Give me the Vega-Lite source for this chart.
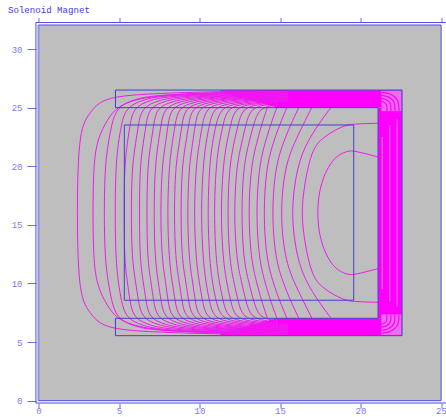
{"$schema":"https://vega.github.io/schema/vega-lite/v6.json","autosize":"none","width":402.5,"height":375.7,"padding":{"left":38.5,"top":25,"right":5,"bottom":16.3},"background":"white","view":{"fill":"#bebebe","stroke":null},
"title":{"text":"Solenoid Magnet","anchor":"start","frame":"group","dx":-30.5,"offset":2,"font":"Liberation Mono","fontSize":9.1,"fontWeight":"normal","color":"#3c3ce0"},
"datasets":{"lines":[
{"c":1,"i":-9,"x":15.5,"y":5.59},{"c":1,"i":-8,"x":11.3,"y":5.68},{"c":1,"i":-7,"x":6.9,"y":5.86},{"c":1,"i":-6,"x":4.63,"y":6.12},{"c":1,"i":-5,"x":3.7,"y":6.66},{"c":1,"i":-4,"x":3.2,"y":7.5},{"c":1,"i":-3,"x":2.78,"y":8.36},{"c":1,"i":-2,"x":2.53,"y":10.06},{"c":1,"i":-1,"x":2.43,"y":13.06},{"c":1,"i":0,"x":2.41,"y":16.03},{"c":1,"i":1,"x":2.43,"y":19},{"c":1,"i":2,"x":2.53,"y":22},{"c":1,"i":3,"x":2.78,"y":23.7},{"c":1,"i":4,"x":3.2,"y":24.56},{"c":1,"i":5,"x":3.7,"y":25.4},{"c":1,"i":6,"x":4.63,"y":25.94},{"c":1,"i":7,"x":6.9,"y":26.2},{"c":1,"i":8,"x":11.3,"y":26.38},{"c":1,"i":9,"x":15.5,"y":26.47},
{"c":2,"i":-8,"x":15.5,"y":5.64},{"c":2,"i":-7,"x":9.5,"y":5.81},{"c":2,"i":-6,"x":7,"y":6.11},{"c":2,"i":-5,"x":5.8,"y":6.46},{"c":2,"i":-4,"x":4.78,"y":7.06},{"c":2,"i":-3,"x":4.07,"y":8.54},{"c":2,"i":-2,"x":3.61,"y":10.06},{"c":2,"i":-1,"x":3.42,"y":12.06},{"c":2,"i":0,"x":3.37,"y":16.03},{"c":2,"i":1,"x":3.42,"y":20},{"c":2,"i":2,"x":3.61,"y":22},{"c":2,"i":3,"x":4.07,"y":23.52},{"c":2,"i":4,"x":4.78,"y":25},{"c":2,"i":5,"x":5.8,"y":25.6},{"c":2,"i":6,"x":7,"y":25.95},{"c":2,"i":7,"x":9.5,"y":26.25},{"c":2,"i":8,"x":15.5,"y":26.42},
{"c":3,"i":-7,"x":15.5,"y":5.69},{"c":3,"i":-6,"x":7.36,"y":5.9},{"c":3,"i":-5,"x":5.86,"y":6.37},{"c":3,"i":-4,"x":4.86,"y":7.06},{"c":3,"i":-3,"x":4.53,"y":8.54},{"c":3,"i":-2,"x":4.34,"y":10.06},{"c":3,"i":-1,"x":4.13,"y":12.06},{"c":3,"i":0,"x":4.07,"y":16.03},{"c":3,"i":1,"x":4.13,"y":20},{"c":3,"i":2,"x":4.34,"y":22},{"c":3,"i":3,"x":4.53,"y":23.52},{"c":3,"i":4,"x":4.86,"y":25},{"c":3,"i":5,"x":5.86,"y":25.69},{"c":3,"i":6,"x":7.36,"y":26.16},{"c":3,"i":7,"x":15.5,"y":26.37},
{"c":4,"i":-7,"x":15.5,"y":5.74},{"c":4,"i":-6,"x":7.92,"y":5.94},{"c":4,"i":-5,"x":6.42,"y":6.4},{"c":4,"i":-4,"x":5.42,"y":7.06},{"c":4,"i":-3,"x":5.14,"y":8.54},{"c":4,"i":-2,"x":4.96,"y":10.06},{"c":4,"i":-1,"x":4.8,"y":12.06},{"c":4,"i":0,"x":4.75,"y":16.03},{"c":4,"i":1,"x":4.8,"y":20},{"c":4,"i":2,"x":4.96,"y":22},{"c":4,"i":3,"x":5.14,"y":23.52},{"c":4,"i":4,"x":5.42,"y":25},{"c":4,"i":5,"x":6.42,"y":25.66},{"c":4,"i":6,"x":7.92,"y":26.12},{"c":4,"i":7,"x":15.5,"y":26.32},
{"c":5,"i":-7,"x":15.5,"y":5.79},{"c":5,"i":-6,"x":8.39,"y":5.98},{"c":5,"i":-5,"x":6.89,"y":6.42},{"c":5,"i":-4,"x":5.89,"y":7.06},{"c":5,"i":-3,"x":5.68,"y":8.54},{"c":5,"i":-2,"x":5.52,"y":10.06},{"c":5,"i":-1,"x":5.34,"y":12.06},{"c":5,"i":0,"x":5.31,"y":16.03},{"c":5,"i":1,"x":5.34,"y":20},{"c":5,"i":2,"x":5.52,"y":22},{"c":5,"i":3,"x":5.68,"y":23.52},{"c":5,"i":4,"x":5.89,"y":25},{"c":5,"i":5,"x":6.89,"y":25.64},{"c":5,"i":6,"x":8.39,"y":26.08},{"c":5,"i":7,"x":15.5,"y":26.27},
{"c":6,"i":-7,"x":15.5,"y":5.84},{"c":6,"i":-6,"x":8.91,"y":6.02},{"c":6,"i":-5,"x":7.41,"y":6.45},{"c":6,"i":-4,"x":6.41,"y":7.06},{"c":6,"i":-3,"x":6.2,"y":8.54},{"c":6,"i":-2,"x":6.04,"y":10.06},{"c":6,"i":-1,"x":5.81,"y":12.06},{"c":6,"i":0,"x":5.75,"y":16.03},{"c":6,"i":1,"x":5.81,"y":20},{"c":6,"i":2,"x":6.04,"y":22},{"c":6,"i":3,"x":6.2,"y":23.52},{"c":6,"i":4,"x":6.41,"y":25},{"c":6,"i":5,"x":7.41,"y":25.61},{"c":6,"i":6,"x":8.91,"y":26.04},{"c":6,"i":7,"x":15.5,"y":26.22},
{"c":7,"i":-7,"x":15.5,"y":5.89},{"c":7,"i":-6,"x":9.36,"y":6.07},{"c":7,"i":-5,"x":7.86,"y":6.47},{"c":7,"i":-4,"x":6.86,"y":7.06},{"c":7,"i":-3,"x":6.68,"y":8.54},{"c":7,"i":-2,"x":6.51,"y":10.06},{"c":7,"i":-1,"x":6.3,"y":12.06},{"c":7,"i":0,"x":6.26,"y":16.03},{"c":7,"i":1,"x":6.3,"y":20},{"c":7,"i":2,"x":6.51,"y":22},{"c":7,"i":3,"x":6.68,"y":23.52},{"c":7,"i":4,"x":6.86,"y":25},{"c":7,"i":5,"x":7.86,"y":25.59},{"c":7,"i":6,"x":9.36,"y":25.99},{"c":7,"i":7,"x":15.5,"y":26.17},
{"c":8,"i":-7,"x":15.5,"y":5.94},{"c":8,"i":-6,"x":9.84,"y":6.11},{"c":8,"i":-5,"x":8.34,"y":6.5},{"c":8,"i":-4,"x":7.34,"y":7.06},{"c":8,"i":-3,"x":7.15,"y":8.54},{"c":8,"i":-2,"x":6.99,"y":10.06},{"c":8,"i":-1,"x":6.77,"y":12.06},{"c":8,"i":0,"x":6.72,"y":16.03},{"c":8,"i":1,"x":6.77,"y":20},{"c":8,"i":2,"x":6.99,"y":22},{"c":8,"i":3,"x":7.15,"y":23.52},{"c":8,"i":4,"x":7.34,"y":25},{"c":8,"i":5,"x":8.34,"y":25.56},{"c":8,"i":6,"x":9.84,"y":25.95},{"c":8,"i":7,"x":15.5,"y":26.12},
{"c":9,"i":-7,"x":15.5,"y":5.99},{"c":9,"i":-6,"x":10.3,"y":6.15},{"c":9,"i":-5,"x":8.8,"y":6.52},{"c":9,"i":-4,"x":7.8,"y":7.06},{"c":9,"i":-3,"x":7.61,"y":8.54},{"c":9,"i":-2,"x":7.44,"y":10.06},{"c":9,"i":-1,"x":7.24,"y":12.06},{"c":9,"i":0,"x":7.16,"y":16.03},{"c":9,"i":1,"x":7.24,"y":20},{"c":9,"i":2,"x":7.44,"y":22},{"c":9,"i":3,"x":7.61,"y":23.52},{"c":9,"i":4,"x":7.8,"y":25},{"c":9,"i":5,"x":8.8,"y":25.54},{"c":9,"i":6,"x":10.3,"y":25.91},{"c":9,"i":7,"x":15.5,"y":26.07},
{"c":10,"i":-7,"x":15.5,"y":6.04},{"c":10,"i":-6,"x":10.73,"y":6.19},{"c":10,"i":-5,"x":9.23,"y":6.55},{"c":10,"i":-4,"x":8.23,"y":7.06},{"c":10,"i":-3,"x":8.04,"y":8.54},{"c":10,"i":-2,"x":7.9,"y":10.06},{"c":10,"i":-1,"x":7.67,"y":12.06},{"c":10,"i":0,"x":7.57,"y":16.03},{"c":10,"i":1,"x":7.67,"y":20},{"c":10,"i":2,"x":7.9,"y":22},{"c":10,"i":3,"x":8.04,"y":23.52},{"c":10,"i":4,"x":8.23,"y":25},{"c":10,"i":5,"x":9.23,"y":25.51},{"c":10,"i":6,"x":10.73,"y":25.87},{"c":10,"i":7,"x":15.5,"y":26.02},
{"c":11,"i":-7,"x":15.5,"y":6.09},{"c":11,"i":-6,"x":11.18,"y":6.24},{"c":11,"i":-5,"x":9.68,"y":6.57},{"c":11,"i":-4,"x":8.68,"y":7.06},{"c":11,"i":-3,"x":8.48,"y":8.54},{"c":11,"i":-2,"x":8.31,"y":10.06},{"c":11,"i":-1,"x":8.11,"y":12.06},{"c":11,"i":0,"x":8,"y":16.03},{"c":11,"i":1,"x":8.11,"y":20},{"c":11,"i":2,"x":8.31,"y":22},{"c":11,"i":3,"x":8.48,"y":23.52},{"c":11,"i":4,"x":8.68,"y":25},{"c":11,"i":5,"x":9.68,"y":25.49},{"c":11,"i":6,"x":11.18,"y":25.82},{"c":11,"i":7,"x":15.5,"y":25.97},
{"c":12,"i":-7,"x":15.5,"y":6.14},{"c":12,"i":-6,"x":11.6,"y":6.28},{"c":12,"i":-5,"x":10.1,"y":6.6},{"c":12,"i":-4,"x":9.1,"y":7.06},{"c":12,"i":-3,"x":8.91,"y":8.54},{"c":12,"i":-2,"x":8.75,"y":10.06},{"c":12,"i":-1,"x":8.51,"y":12.06},{"c":12,"i":0,"x":8.42,"y":16.03},{"c":12,"i":1,"x":8.51,"y":20},{"c":12,"i":2,"x":8.75,"y":22},{"c":12,"i":3,"x":8.91,"y":23.52},{"c":12,"i":4,"x":9.1,"y":25},{"c":12,"i":5,"x":10.1,"y":25.46},{"c":12,"i":6,"x":11.6,"y":25.78},{"c":12,"i":7,"x":15.5,"y":25.92},
{"c":13,"i":-7,"x":15.5,"y":6.19},{"c":13,"i":-6,"x":12.02,"y":6.32},{"c":13,"i":-5,"x":10.52,"y":6.62},{"c":13,"i":-4,"x":9.52,"y":7.06},{"c":13,"i":-3,"x":9.32,"y":8.54},{"c":13,"i":-2,"x":9.16,"y":10.06},{"c":13,"i":-1,"x":8.91,"y":12.06},{"c":13,"i":0,"x":8.83,"y":16.03},{"c":13,"i":1,"x":8.91,"y":20},{"c":13,"i":2,"x":9.16,"y":22},{"c":13,"i":3,"x":9.32,"y":23.52},{"c":13,"i":4,"x":9.52,"y":25},{"c":13,"i":5,"x":10.52,"y":25.44},{"c":13,"i":6,"x":12.02,"y":25.74},{"c":13,"i":7,"x":15.5,"y":25.87},
{"c":14,"i":-7,"x":15.5,"y":6.24},{"c":14,"i":-6,"x":12.43,"y":6.36},{"c":14,"i":-5,"x":10.93,"y":6.65},{"c":14,"i":-4,"x":9.93,"y":7.06},{"c":14,"i":-3,"x":9.73,"y":8.54},{"c":14,"i":-2,"x":9.58,"y":10.06},{"c":14,"i":-1,"x":9.35,"y":12.06},{"c":14,"i":0,"x":9.24,"y":16.03},{"c":14,"i":1,"x":9.35,"y":20},{"c":14,"i":2,"x":9.58,"y":22},{"c":14,"i":3,"x":9.73,"y":23.52},{"c":14,"i":4,"x":9.93,"y":25},{"c":14,"i":5,"x":10.93,"y":25.41},{"c":14,"i":6,"x":12.43,"y":25.7},{"c":14,"i":7,"x":15.5,"y":25.82},
{"c":15,"i":-7,"x":15.5,"y":6.29},{"c":15,"i":-6,"x":12.9,"y":6.41},{"c":15,"i":-5,"x":11.4,"y":6.67},{"c":15,"i":-4,"x":10.4,"y":7.06},{"c":15,"i":-3,"x":10.18,"y":8.54},{"c":15,"i":-2,"x":9.99,"y":10.06},{"c":15,"i":-1,"x":9.78,"y":12.06},{"c":15,"i":0,"x":9.66,"y":16.03},{"c":15,"i":1,"x":9.78,"y":20},{"c":15,"i":2,"x":9.99,"y":22},{"c":15,"i":3,"x":10.18,"y":23.52},{"c":15,"i":4,"x":10.4,"y":25},{"c":15,"i":5,"x":11.4,"y":25.39},{"c":15,"i":6,"x":12.9,"y":25.65},{"c":15,"i":7,"x":15.5,"y":25.77},
{"c":16,"i":-7,"x":15.5,"y":6.34},{"c":16,"i":-6,"x":13.36,"y":6.45},{"c":16,"i":-5,"x":11.86,"y":6.7},{"c":16,"i":-4,"x":10.86,"y":7.06},{"c":16,"i":-3,"x":10.61,"y":8.54},{"c":16,"i":-2,"x":10.4,"y":10.06},{"c":16,"i":-1,"x":10.22,"y":12.06},{"c":16,"i":0,"x":10.09,"y":16.03},{"c":16,"i":1,"x":10.22,"y":20},{"c":16,"i":2,"x":10.4,"y":22},{"c":16,"i":3,"x":10.61,"y":23.52},{"c":16,"i":4,"x":10.86,"y":25},{"c":16,"i":5,"x":11.86,"y":25.36},{"c":16,"i":6,"x":13.36,"y":25.61},{"c":16,"i":7,"x":15.5,"y":25.72},
{"c":17,"i":-7,"x":15.5,"y":6.39},{"c":17,"i":-6,"x":13.82,"y":6.49},{"c":17,"i":-5,"x":12.32,"y":6.72},{"c":17,"i":-4,"x":11.32,"y":7.06},{"c":17,"i":-3,"x":11.02,"y":8.54},{"c":17,"i":-2,"x":10.8,"y":10.06},{"c":17,"i":-1,"x":10.62,"y":12.06},{"c":17,"i":0,"x":10.5,"y":16.03},{"c":17,"i":1,"x":10.62,"y":20},{"c":17,"i":2,"x":10.8,"y":22},{"c":17,"i":3,"x":11.02,"y":23.52},{"c":17,"i":4,"x":11.32,"y":25},{"c":17,"i":5,"x":12.32,"y":25.34},{"c":17,"i":6,"x":13.82,"y":25.57},{"c":17,"i":7,"x":15.5,"y":25.67},
{"c":18,"i":-7,"x":15.5,"y":6.44},{"c":18,"i":-6,"x":14.23,"y":6.53},{"c":18,"i":-5,"x":12.73,"y":6.75},{"c":18,"i":-4,"x":11.73,"y":7.06},{"c":18,"i":-3,"x":11.46,"y":8.54},{"c":18,"i":-2,"x":11.23,"y":10.06},{"c":18,"i":-1,"x":11.02,"y":12.06},{"c":18,"i":0,"x":10.9,"y":16.03},{"c":18,"i":1,"x":11.02,"y":20},{"c":18,"i":2,"x":11.23,"y":22},{"c":18,"i":3,"x":11.46,"y":23.52},{"c":18,"i":4,"x":11.73,"y":25},{"c":18,"i":5,"x":12.73,"y":25.31},{"c":18,"i":6,"x":14.23,"y":25.53},{"c":18,"i":7,"x":15.5,"y":25.62},
{"c":19,"i":-7,"x":15.5,"y":6.49},{"c":19,"i":-6,"x":14.4,"y":6.58},{"c":19,"i":-5,"x":13.2,"y":6.77},{"c":19,"i":-4,"x":12.2,"y":7.06},{"c":19,"i":-3,"x":11.93,"y":8.54},{"c":19,"i":-2,"x":11.69,"y":10.06},{"c":19,"i":-1,"x":11.46,"y":12.06},{"c":19,"i":0,"x":11.32,"y":16.03},{"c":19,"i":1,"x":11.46,"y":20},{"c":19,"i":2,"x":11.69,"y":22},{"c":19,"i":3,"x":11.93,"y":23.52},{"c":19,"i":4,"x":12.2,"y":25},{"c":19,"i":5,"x":13.2,"y":25.29},{"c":19,"i":6,"x":14.4,"y":25.48},{"c":19,"i":7,"x":15.5,"y":25.57},
{"c":20,"i":-6,"x":14.7,"y":6.62},{"c":20,"i":-5,"x":13.68,"y":6.8},{"c":20,"i":-4,"x":12.68,"y":7.06},{"c":20,"i":-3,"x":12.39,"y":8.54},{"c":20,"i":-2,"x":12.14,"y":10.06},{"c":20,"i":-1,"x":11.86,"y":12.06},{"c":20,"i":0,"x":11.73,"y":16.03},{"c":20,"i":1,"x":11.86,"y":20},{"c":20,"i":2,"x":12.14,"y":22},{"c":20,"i":3,"x":12.39,"y":23.52},{"c":20,"i":4,"x":12.68,"y":25},{"c":20,"i":5,"x":13.68,"y":25.26},{"c":20,"i":6,"x":14.7,"y":25.44},
{"c":21,"i":-5,"x":14.18,"y":6.82},{"c":21,"i":-4,"x":13.18,"y":7.06},{"c":21,"i":-3,"x":12.87,"y":8.54},{"c":21,"i":-2,"x":12.62,"y":10.06},{"c":21,"i":-1,"x":12.3,"y":12.06},{"c":21,"i":0,"x":12.14,"y":16.03},{"c":21,"i":1,"x":12.3,"y":20},{"c":21,"i":2,"x":12.62,"y":22},{"c":21,"i":3,"x":12.87,"y":23.52},{"c":21,"i":4,"x":13.18,"y":25},{"c":21,"i":5,"x":14.18,"y":25.24},
{"c":22,"i":-5,"x":14.7,"y":6.85},{"c":22,"i":-4,"x":13.7,"y":7.06},{"c":22,"i":-3,"x":13.35,"y":8.54},{"c":22,"i":-2,"x":13.07,"y":10.06},{"c":22,"i":-1,"x":12.73,"y":12.06},{"c":22,"i":0,"x":12.6,"y":16.03},{"c":22,"i":1,"x":12.73,"y":20},{"c":22,"i":2,"x":13.07,"y":22},{"c":22,"i":3,"x":13.35,"y":23.52},{"c":22,"i":4,"x":13.7,"y":25},{"c":22,"i":5,"x":14.7,"y":25.21},
{"c":23,"i":-4,"x":14.21,"y":7.06},{"c":23,"i":-3,"x":13.85,"y":8.54},{"c":23,"i":-2,"x":13.55,"y":10.06},{"c":23,"i":-1,"x":13.2,"y":12.06},{"c":23,"i":0,"x":13.03,"y":16.03},{"c":23,"i":1,"x":13.2,"y":20},{"c":23,"i":2,"x":13.55,"y":22},{"c":23,"i":3,"x":13.85,"y":23.52},{"c":23,"i":4,"x":14.21,"y":25},
{"c":24,"i":-4,"x":14.8,"y":7.06},{"c":24,"i":-3,"x":14.41,"y":8.54},{"c":24,"i":-2,"x":14.07,"y":10.06},{"c":24,"i":-1,"x":13.7,"y":12.06},{"c":24,"i":0,"x":13.51,"y":16.03},{"c":24,"i":1,"x":13.7,"y":20},{"c":24,"i":2,"x":14.07,"y":22},{"c":24,"i":3,"x":14.41,"y":23.52},{"c":24,"i":4,"x":14.8,"y":25},
{"c":25,"i":-4,"x":15.42,"y":7.06},{"c":25,"i":-3,"x":14.97,"y":8.54},{"c":25,"i":-2,"x":14.58,"y":10.06},{"c":25,"i":-1,"x":14.16,"y":12.06},{"c":25,"i":0,"x":13.96,"y":16.03},{"c":25,"i":1,"x":14.16,"y":20},{"c":25,"i":2,"x":14.58,"y":22},{"c":25,"i":3,"x":14.97,"y":23.52},{"c":25,"i":4,"x":15.42,"y":25},
{"c":26,"i":-4,"x":16.16,"y":7.06},{"c":26,"i":-3,"x":15.65,"y":8.54},{"c":26,"i":-2,"x":15.2,"y":10.06},{"c":26,"i":-1,"x":14.72,"y":12.06},{"c":26,"i":0,"x":14.48,"y":16.03},{"c":26,"i":1,"x":14.72,"y":20},{"c":26,"i":2,"x":15.2,"y":22},{"c":26,"i":3,"x":15.65,"y":23.52},{"c":26,"i":4,"x":16.16,"y":25},
{"c":27,"i":-4,"x":16.97,"y":7.06},{"c":27,"i":-3,"x":16.43,"y":8.54},{"c":27,"i":-2,"x":15.89,"y":10.06},{"c":27,"i":-1,"x":15.31,"y":12.06},{"c":27,"i":0,"x":15,"y":16.03},{"c":27,"i":1,"x":15.31,"y":20},{"c":27,"i":2,"x":15.89,"y":22},{"c":27,"i":3,"x":16.43,"y":23.52},{"c":27,"i":4,"x":16.97,"y":25},
{"c":28,"i":-4,"x":18.15,"y":7.06},{"c":28,"i":-3,"x":17.36,"y":8.54},{"c":28,"i":-2,"x":16.66,"y":10.06},{"c":28,"i":-1,"x":16.06,"y":12.06},{"c":28,"i":0,"x":15.66,"y":16.03},{"c":28,"i":1,"x":16.06,"y":20},{"c":28,"i":2,"x":16.66,"y":22},{"c":28,"i":3,"x":17.36,"y":23.52},{"c":28,"i":4,"x":18.15,"y":25},
{"c":29,"i":-6,"x":21.09,"y":8.39},{"c":29,"i":-5,"x":19.53,"y":8.45},{"c":29,"i":-4,"x":18.91,"y":8.6},{"c":29,"i":-3,"x":17.67,"y":9.56},{"c":29,"i":-2,"x":16.93,"y":10.67},{"c":29,"i":-1,"x":16.43,"y":14.34},{"c":29,"i":0,"x":16.37,"y":16.03},{"c":29,"i":1,"x":16.43,"y":17.72},{"c":29,"i":2,"x":16.93,"y":21.39},{"c":29,"i":3,"x":17.67,"y":22.5},{"c":29,"i":4,"x":18.91,"y":23.46},{"c":29,"i":5,"x":19.53,"y":23.61},{"c":29,"i":6,"x":21.09,"y":23.67},
{"c":30,"i":-5,"x":21.09,"y":11.27},{"c":30,"i":-4,"x":19.6,"y":10.73},{"c":30,"i":-3,"x":19.22,"y":10.73},{"c":30,"i":-2,"x":18.29,"y":11.27},{"c":30,"i":-1,"x":17.49,"y":13.49},{"c":30,"i":0,"x":17.28,"y":16.03},{"c":30,"i":1,"x":17.49,"y":18.57},{"c":30,"i":2,"x":18.29,"y":20.79},{"c":30,"i":3,"x":19.22,"y":21.33},{"c":30,"i":4,"x":19.6,"y":21.33},{"c":30,"i":5,"x":21.09,"y":20.79}
]},
"encoding":{"x":{"field":"x","type":"quantitative","title":null,"axis":null,"scale":{"domain":[0,25],"nice":false,"zero":false}},"y":{"field":"y","type":"quantitative","title":null,"axis":null,"scale":{"domain":[0,32.05],"nice":false,"zero":false}}},
"resolve":{"axis":{"x":"independent","y":"independent"}},
"layer":[
{"data":{"values":[{"x":14.8,"x2":22.58,"y":25.02,"y2":26.48},{"x":14.8,"x2":22.58,"y":5.58,"y2":7.04},{"x":21.09,"x2":22.58,"y":7.03,"y2":25}]},"mark":{"type":"rect","color":"#ff00ff"},"encoding":{"x2":{"field":"x2"},"y2":{"field":"y2"}}},
{"data":{"values":[{"b":1,"x":11.3,"y":26.3,"y2":26.48},{"b":1,"x":14.8,"y":25.02,"y2":26.48},{"b":2,"x":11.3,"y":5.76,"y2":5.58},{"b":2,"x":14.8,"y":7.04,"y2":5.58}]},"mark":{"type":"area","color":"#ff00ff","line":false},"encoding":{"y2":{"field":"y2"},"detail":{"field":"b"}}},
{"data":{"values":[{"x":21.3,"x2":22.55,"y":24.7,"y2":26.45},{"x":21.3,"x2":22.55,"y":5.61,"y2":7.36}]},"mark":{"type":"rect","color":"#ee6cee"},"encoding":{"x2":{"field":"x2"},"y2":{"field":"y2"}}},
{"data":{"values":[{"c":1,"i":1,"x":21.64,"y":24.7},{"c":1,"i":2,"x":21.6,"y":25.28},{"c":1,"i":3,"x":21.42,"y":25.48},{"c":1,"i":4,"x":21.2,"y":25.55},{"c":2,"i":1,"x":21.89,"y":24.7},{"c":2,"i":2,"x":21.83,"y":25.4},{"c":2,"i":3,"x":21.57,"y":25.7},{"c":2,"i":4,"x":21.25,"y":25.8},{"c":3,"i":1,"x":22.14,"y":24.7},{"c":3,"i":2,"x":22.06,"y":25.53},{"c":3,"i":3,"x":21.72,"y":25.92},{"c":3,"i":4,"x":21.3,"y":26.05},{"c":4,"i":1,"x":22.39,"y":24.7},{"c":4,"i":2,"x":22.29,"y":25.65},{"c":4,"i":3,"x":21.87,"y":26.14},{"c":4,"i":4,"x":21.35,"y":26.3},{"c":5,"i":1,"x":21.64,"y":7.36},{"c":5,"i":2,"x":21.6,"y":6.78},{"c":5,"i":3,"x":21.42,"y":6.58},{"c":5,"i":4,"x":21.2,"y":6.51},{"c":6,"i":1,"x":21.89,"y":7.36},{"c":6,"i":2,"x":21.83,"y":6.66},{"c":6,"i":3,"x":21.57,"y":6.36},{"c":6,"i":4,"x":21.25,"y":6.26},{"c":7,"i":1,"x":22.14,"y":7.36},{"c":7,"i":2,"x":22.06,"y":6.53},{"c":7,"i":3,"x":21.72,"y":6.14},{"c":7,"i":4,"x":21.3,"y":6.01},{"c":8,"i":1,"x":22.39,"y":7.36},{"c":8,"i":2,"x":22.29,"y":6.41},{"c":8,"i":3,"x":21.87,"y":5.92},{"c":8,"i":4,"x":21.35,"y":5.76}]},"mark":{"type":"line","color":"#ff00ff","strokeWidth":1.2,"interpolate":"catmull-rom"},"encoding":{"detail":{"field":"c"},"order":{"field":"i"}}},
{"data":{"values":[{"x":21.35,"y":9.5,"y2":22.5},{"x":21.82,"y":8.5,"y2":23.5},{"x":22.27,"y":8,"y2":24}]},"mark":{"type":"rule","color":"#f878f8","strokeWidth":1},"encoding":{"y2":{"field":"y2"}}},
{"data":{"name":"lines"},"mark":{"type":"line","color":"#f018f0","strokeWidth":1,"interpolate":"basis"},"encoding":{"detail":{"field":"c"},"order":{"field":"i"}}},
{"data":{"values":[{"i":1,"x":4.78,"y":26.5},{"i":2,"x":22.58,"y":26.5},{"i":3,"x":22.58,"y":5.55},{"i":4,"x":4.78,"y":5.55},{"i":5,"x":4.78,"y":7.03},{"i":6,"x":21.09,"y":7.03},{"i":7,"x":21.09,"y":25},{"i":8,"x":4.78,"y":25},{"i":9,"x":4.78,"y":26.5}]},"mark":{"type":"line","color":"#4040cc","strokeWidth":1},"encoding":{"order":{"field":"i"}}},
{"data":{"values":[{"i":1,"x":5.33,"y":23.52},{"i":2,"x":19.58,"y":23.52},{"i":3,"x":19.58,"y":8.57},{"i":4,"x":5.33,"y":8.57},{"i":5,"x":5.33,"y":23.52}]},"mark":{"type":"line","color":"#4040cc","strokeWidth":1},"encoding":{"order":{"field":"i"}}},
{"data":{"values":[{"x":0,"y":0,"y2":32.05},{"x":25,"y":0,"y2":32.05}]},"mark":{"type":"rule","color":"#9090e0","strokeWidth":2},"encoding":{"y2":{"field":"y2"}}},
{"data":{"values":[{"x":0,"x2":25,"y":0},{"x":0,"x2":25,"y":32.05}]},"mark":{"type":"rule","color":"#4a4ae8","strokeWidth":1},"encoding":{"x2":{"field":"x2"}}},
{"data":{"values":[{"x":-0.16,"x2":25.3,"y":-0.2},{"x":-0.16,"x2":25.3,"y":32.26}]},"mark":{"type":"rule","color":"#4a4ae8","strokeWidth":1},"encoding":{"x2":{"field":"x2"},"x":{"field":"x","type":"quantitative","title":null,"axis":{"orient":"bottom","offset":2.5,"values":[0,5,10,15,20,25],"domain":false,"grid":false,"tickSize":5,"tickColor":"#6a6aee","labelColor":"#7c7cf0","labelFont":"Liberation Mono","labelFontSize":9,"labelPadding":-1.5,"labelBound":false,"labelFlush":false}},"y":{"field":"y","type":"quantitative","title":null,"axis":{"orient":"left","offset":2.5,"values":[0,5,10,15,20,25,30],"domain":false,"grid":false,"tickSize":9,"tickColor":"#6a6aee","labelColor":"#7c7cf0","labelFont":"Liberation Mono","labelFontSize":9,"labelPadding":5}}}},
{"data":{"values":[{"x":-0.16,"y":-0.2,"y2":32.26}]},"mark":{"type":"rule","color":"#4a4ae8","strokeWidth":1},"encoding":{"y2":{"field":"y2"},"x":{"field":"x","type":"quantitative","title":null,"axis":{"orient":"top","offset":2.5,"values":[0,5,10,15,20,25],"domain":false,"grid":false,"labels":false,"tickSize":5,"tickColor":"#6a6aee"}}}}
]}
